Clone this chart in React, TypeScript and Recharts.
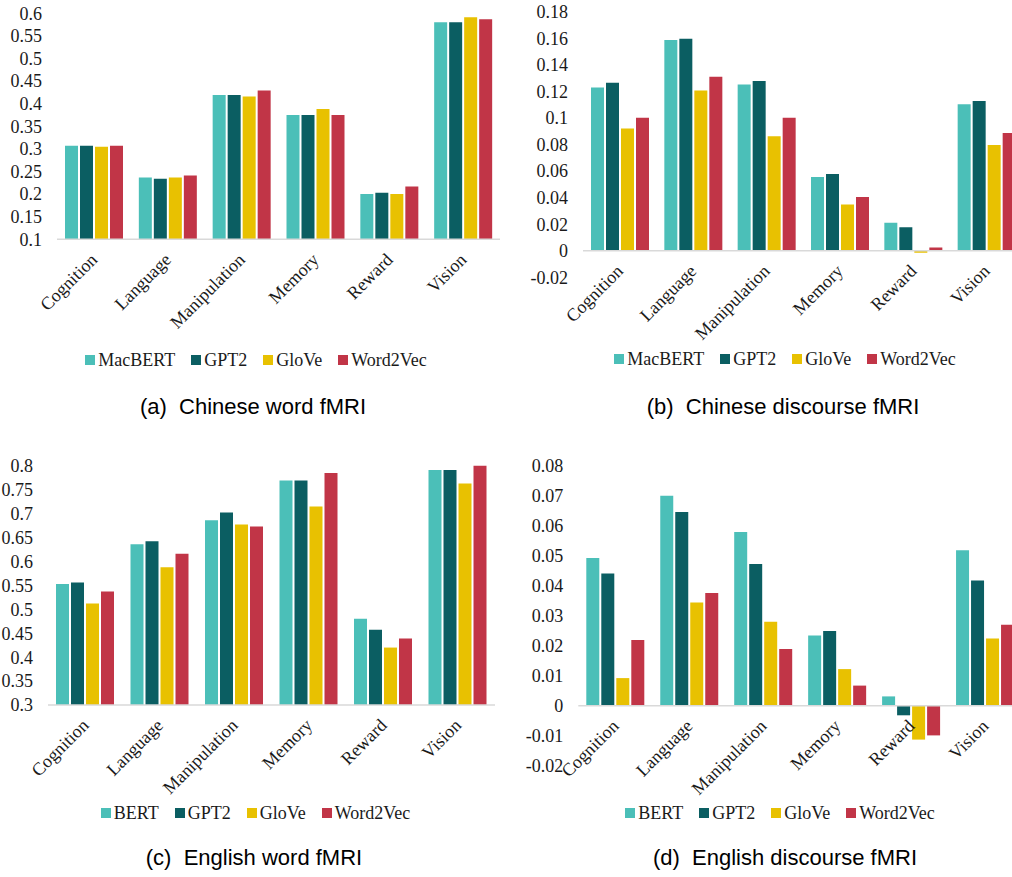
import React from 'react';
import { BarChart, Bar, XAxis, YAxis, Legend, ReferenceLine } from 'recharts';

const categories = ['Cognition', 'Language', 'Manipulation', 'Memory', 'Reward', 'Vision'];

const chineseModels = ['MacBERT', 'GPT2', 'GloVe', 'Word2Vec'];
const englishModels = ['BERT', 'GPT2', 'GloVe', 'Word2Vec'];

// (a) Chinese word fMRI
const aMacBERT = [0.307, 0.237, 0.419, 0.375, 0.2, 0.58];
const aGPT2 = [0.307, 0.234, 0.419, 0.375, 0.203, 0.58];
const aGloVe = [0.305, 0.237, 0.416, 0.388, 0.2, 0.591];
const aWord2Vec = [0.307, 0.241, 0.429, 0.375, 0.217, 0.587];

// (b) Chinese discourse fMRI
const bMacBERT = [0.123, 0.1586, 0.1252, 0.0555, 0.0211, 0.1104];
const bGPT2 = [0.1265, 0.1596, 0.1278, 0.0577, 0.0176, 0.1127];
const bGloVe = [0.0921, 0.1207, 0.0863, 0.0349, -0.0015, 0.0796];
const bWord2Vec = [0.1001, 0.131, 0.1001, 0.0404, 0.0025, 0.0886];

// (c) English word fMRI
const cBERT = [0.553, 0.636, 0.686, 0.769, 0.48, 0.791];
const cGPT2 = [0.556, 0.642, 0.702, 0.769, 0.457, 0.791];
const cGloVe = [0.512, 0.588, 0.677, 0.715, 0.42, 0.763];
const cWord2Vec = [0.537, 0.616, 0.673, 0.785, 0.439, 0.802];

// (d) English discourse fMRI
const dBERT = [0.0492, 0.07, 0.0579, 0.0234, 0.0031, 0.0518];
const dGPT2 = [0.0441, 0.0646, 0.0472, 0.0249, -0.0032, 0.0417];
const dGloVe = [0.0092, 0.0344, 0.028, 0.0122, -0.0113, 0.0224];
const dWord2Vec = [0.0219, 0.0376, 0.0189, 0.0067, -0.0099, 0.027];

const aTicks = [0.1, 0.15, 0.2, 0.25, 0.3, 0.35, 0.4, 0.45, 0.5, 0.55, 0.6];
const bTicks = [-0.02, 0, 0.02, 0.04, 0.06, 0.08, 0.1, 0.12, 0.14, 0.16, 0.18];
const cTicks = [0.3, 0.35, 0.4, 0.45, 0.5, 0.55, 0.6, 0.65, 0.7, 0.75, 0.8];
const dTicks = [-0.02, -0.01, 0, 0.01, 0.02, 0.03, 0.04, 0.05, 0.06, 0.07, 0.08];

const captions = ['(a)  Chinese word fMRI', '(b)  Chinese discourse fMRI', '(c)  English word fMRI', '(d)  English discourse fMRI'];

const COLORS = ['#4BBFB8', '#0B5E62', '#E8C101', '#C13547'];
const SERIF = '"Liberation Serif", "Times New Roman", serif';
const SANS = '"Liberation Sans", Arial, sans-serif';
const TEXT = '#1a1a1a';
const LEGEND_H = 24;

const buildRows = (series: number[][]) =>
  categories.map((c, i) => {
    const row: any = { category: c };
    series.forEach((s, k) => {
      row['s' + k] = s[i];
    });
    return row;
  });

const fmt = (v: number) => String(Number(v.toFixed(3)));

type PanelProps = {
  left: number;
  top: number;
  width: number;
  height: number;
  marginTop: number;
  marginRight: number;
  yAxisWidth: number;
  xAxisHeight: number;
  series: number[][];
  names: string[];
  ticks: number[];
  legendLeft: number;
  legendWidth: number;
  zeroLine: boolean;
};

function Panel(p: PanelProps) {
  const data = buildRows(p.series);
  const min = p.ticks[0];
  const max = p.ticks[p.ticks.length - 1];
  const plotH = p.height - p.marginTop - LEGEND_H - p.xAxisHeight;
  const baseOffset = p.zeroLine ? (plotH * (0 - min)) / (max - min) : 0;

  const renderTick = (props: any) => {
    const { x, y, payload } = props;
    const zy = y - baseOffset;
    return (
      <text
        x={0}
        y={0}
        transform={`translate(${x + 4.5},${zy + 21.5}) rotate(-45)`}
        textAnchor="end"
        fontSize={18}
        fontFamily={SERIF}
        fill={TEXT}
      >
        {payload.value}
      </text>
    );
  };

  const renderLegend = () => (
    <div
      style={{
        display: 'flex',
        justifyContent: 'center',
        alignItems: 'center',
        height: LEGEND_H,
        lineHeight: LEGEND_H + 'px',
        fontFamily: SERIF,
        fontSize: 18,
        color: TEXT,
        whiteSpace: 'nowrap',
      }}
    >
      {p.names.map((n, i) => (
        <span
          key={n}
          style={{ display: 'flex', alignItems: 'center', marginRight: i < p.names.length - 1 ? 16 : 0 }}
        >
          <span style={{ display: 'inline-block', width: 10, height: 10, background: COLORS[i], marginRight: 3 }} />
          {n}
        </span>
      ))}
    </div>
  );

  return (
    <div style={{ position: 'absolute', left: p.left, top: p.top }}>
      <BarChart
        width={p.width}
        height={p.height}
        data={data}
        margin={{ top: p.marginTop, right: p.marginRight, left: 0, bottom: 0 }}
        barCategoryGap={8}
        barGap={2}
      >
        <XAxis
          dataKey="category"
          interval={0}
          height={p.xAxisHeight}
          tickLine={false}
          tickSize={0}
          tickMargin={0}
          axisLine={p.zeroLine ? false : { stroke: '#d9d9d9', strokeWidth: 1.5 }}
          tick={renderTick}
        />
        <YAxis
          type="number"
          domain={[min, max]}
          ticks={p.ticks}
          interval={0}
          allowDataOverflow
          width={p.yAxisWidth}
          axisLine={false}
          tickLine={false}
          tickSize={0}
          tickMargin={15}
          tickFormatter={fmt}
          tick={{ fontSize: 18, fontFamily: SERIF, fill: TEXT }}
        />
        {p.zeroLine && <ReferenceLine y={0} stroke="#d9d9d9" strokeWidth={1.5} />}
        {p.names.map((n, k) => (
          <Bar key={n} dataKey={'s' + k} name={n} fill={COLORS[k]} isAnimationActive={false} />
        ))}
        <Legend
          verticalAlign="bottom"
          content={renderLegend}
          wrapperStyle={{ left: p.legendLeft, width: p.legendWidth, height: LEGEND_H }}
        />
      </BarChart>
    </div>
  );
}

function Caption({ text, cx, top }: { text: string; cx: number; top: number }) {
  return (
    <div
      style={{
        position: 'absolute',
        left: cx - 250,
        width: 500,
        top,
        textAlign: 'center',
        fontFamily: SANS,
        fontSize: 22,
        lineHeight: '22px',
        color: '#000',
        whiteSpace: 'pre',
      }}
    >
      {text}
    </div>
  );
}

export default function App() {
  return (
    <div style={{ position: 'absolute', left: 0, top: 0, width: 1012, height: 877, overflow: 'hidden', background: '#fff' }}>
      <Panel
        left={0}
        top={0}
        width={505}
        height={372}
        marginTop={13.3}
        marginRight={5}
        yAxisWidth={57}
        xAxisHeight={108.7}
        series={[aMacBERT, aGPT2, aGloVe, aWord2Vec]}
        names={chineseModels}
        ticks={aTicks}
        legendLeft={0}
        legendWidth={512}
        zeroLine={false}
      />
      <Panel
        left={500}
        top={0}
        width={530}
        height={371}
        marginTop={11.7}
        marginRight={7}
        yAxisWidth={83}
        xAxisHeight={69.7}
        series={[bMacBERT, bGPT2, bGloVe, bWord2Vec]}
        names={chineseModels}
        ticks={bTicks}
        legendLeft={0}
        legendWidth={570}
        zeroLine={true}
      />
      <Panel
        left={0}
        top={440}
        width={505}
        height={385}
        marginTop={25.7}
        marginRight={10}
        yAxisWidth={48}
        xAxisHeight={96}
        series={[cBERT, cGPT2, cGloVe, cWord2Vec]}
        names={englishModels}
        ticks={cTicks}
        legendLeft={0}
        legendWidth={511}
        zeroLine={false}
      />
      <Panel
        left={500}
        top={440}
        width={530}
        height={385}
        marginTop={25.7}
        marginRight={8}
        yAxisWidth={78.3}
        xAxisHeight={35.3}
        series={[dBERT, dGPT2, dGloVe, dWord2Vec]}
        names={englishModels}
        ticks={dTicks}
        legendLeft={0}
        legendWidth={560}
        zeroLine={true}
      />
      <Caption text={captions[0]} cx={253} top={396.4} />
      <Caption text={captions[1]} cx={783} top={396.4} />
      <Caption text={captions[2]} cx={254} top={847.4} />
      <Caption text={captions[3]} cx={785} top={847.4} />
    </div>
  );
}
